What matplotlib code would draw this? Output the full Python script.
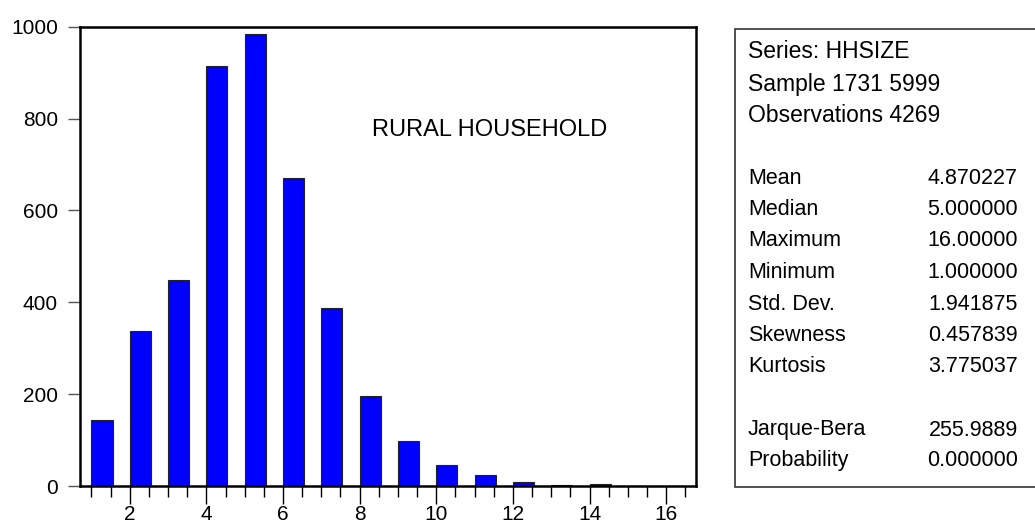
import matplotlib
matplotlib.use('Agg')
import matplotlib.pyplot as plt
from matplotlib.patches import Rectangle

plt.rcParams['font.family'] = ['Liberation Sans', 'DejaVu Sans']

# household size counts
sizes = [1, 2, 3, 4, 5, 6, 7, 8, 9, 10, 11, 12, 13, 14, 15, 16]
counts = [143, 337, 449, 915, 984, 671, 388, 197, 99, 45, 23, 9, 2, 4, 0, 1]

stat_names = ['Mean', 'Median', 'Maximum', 'Minimum', 'Std. Dev.',
              'Skewness', 'Kurtosis']
stat_values = ['4.870227', '5.000000', '16.00000', '1.000000', '1.941875',
               '0.457839', '3.775037']
test_names = ['Jarque-Bera', 'Probability']
test_values = ['255.9889', '0.000000']
header = ['Series: HHSIZE', 'Sample 1731 5999', 'Observations 4269']

W, H = 1035, 525
fig = plt.figure(figsize=(W / 100, H / 100), dpi=100)
ax = fig.add_axes([80 / W, (H - 486) / H, 616 / W, 459.3 / H])

ax.bar(sizes, counts, width=0.55, align='edge', color='#0000ff',
       edgecolor='#222222', linewidth=0.8)

ax.set_xlim(0.7, 16.78)
ax.set_ylim(0, 1000)
ax.set_xticks(range(2, 17, 2))
ax.set_xticks([x / 2 for x in range(2, 34)], minor=True)
ax.set_yticks(range(0, 1001, 200))
ax.tick_params(axis='x', which='major', length=13, width=1, color='black',
               labelsize=15, pad=1)
ax.tick_params(axis='x', which='minor', length=8, width=1, color='black')
ax.tick_params(axis='y', length=9, width=1, color='#555555', labelsize=15,
               pad=7)
for s in ax.spines.values():
    s.set_linewidth(1.8)
    s.set_color('black')

fig.text(490 / W, (H - 130) / H, 'RURAL HOUSEHOLD', fontsize=17,
         ha='center', va='center')

# statistics box
fig.patches.append(Rectangle((734.5 / W, (H - 486.7) / H), (W - 734) / W,
                             457.7 / H, transform=fig.transFigure,
                             fill=False, edgecolor='#333333', linewidth=1.2))

lx, rx = 748, 1018
fs = 15.5
ys = [52, 84, 115]
for y, t in zip(ys, header):
    fig.text(lx / W, (H - y) / H, t, fontsize=16.5, va='center')
y = 178
for n, v in zip(stat_names, stat_values):
    fig.text(lx / W, (H - y) / H, n, fontsize=fs, va='center')
    fig.text(rx / W, (H - y) / H, v, fontsize=fs, va='center', ha='right')
    y += 31.5
y = 430
for n, v in zip(test_names, test_values):
    fig.text(lx / W, (H - y) / H, n, fontsize=fs, va='center')
    fig.text(rx / W, (H - y) / H, v, fontsize=fs, va='center', ha='right')
    y += 30.5

fig.savefig('out.png', dpi=100)
